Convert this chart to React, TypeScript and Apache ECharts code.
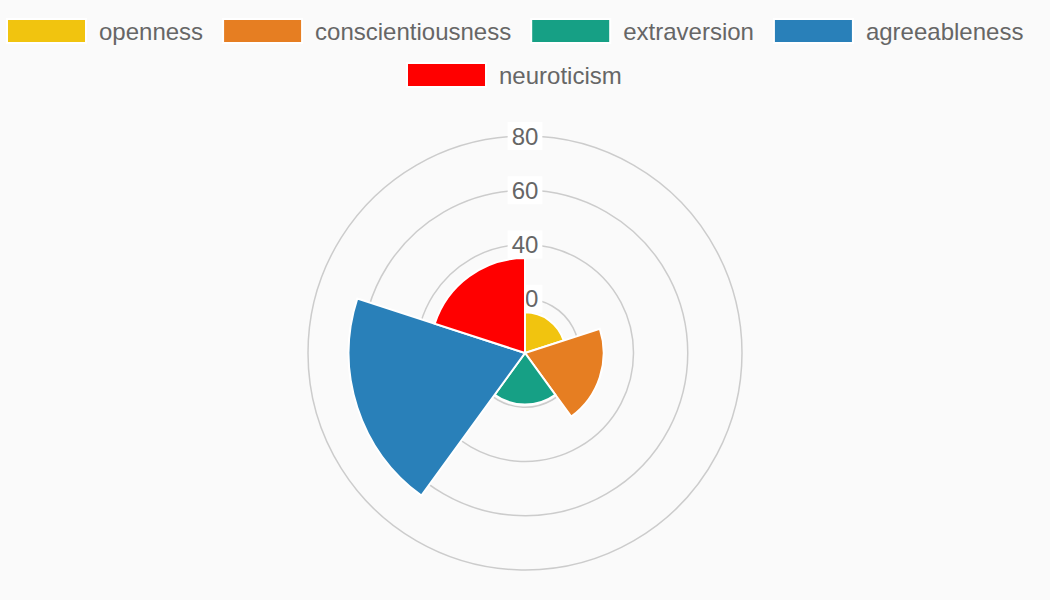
import React, { useEffect, useRef } from "react";
import * as echarts from "echarts";

const categories = ["openness", "conscientiousness", "extraversion", "agreeableness", "neuroticism"];
const values = [15, 29, 19, 65, 35];
const colors = ["#f1c40f", "#e67e22", "#16a085", "#2980b9", "#ff0000"];
const radiusTicks = [0, 20, 40, 60, 80];
const legendRow1 = categories.slice(0, 4);
const legendRow2 = categories.slice(4);

export default function App() {
  const ref = useRef<HTMLDivElement>(null);
  useEffect(() => {
    if (!ref.current) return;
    const chart = echarts.init(ref.current, undefined, { renderer: "svg" });
    const font = "'Liberation Sans', Arial, sans-serif";
    const legendBase = {
      icon: "rect",
      itemWidth: 79,
      itemHeight: 24,
      itemGap: 19,
      padding: 0,
      orient: "horizontal",
      textStyle: { fontSize: 24, color: "#666", fontFamily: font, padding: [0, 0, 0, 8] },
    };
    chart.setOption({
      animation: false,
      backgroundColor: "#fafafa",
      textStyle: { fontFamily: font },
      legend: [
        { ...legendBase, top: 18, left: 6, data: legendRow1 },
        { ...legendBase, top: 62, left: 406, data: legendRow2 },
      ],
      polar: { center: [525, 353], radius: 217 },
      angleAxis: {
        type: "category",
        data: categories,
        startAngle: 90,
        clockwise: true,
        axisLine: { show: false },
        axisTick: { show: false },
        axisLabel: { show: false },
        splitLine: { show: false },
      },
      radiusAxis: {
        type: "value",
        min: radiusTicks[0],
        max: radiusTicks[radiusTicks.length - 1],
        interval: radiusTicks[1] - radiusTicks[0],
        axisLine: { show: false },
        axisTick: { show: false },
        splitLine: { show: true, lineStyle: { color: "#cccccc", width: 1.5 } },
        axisLabel: {
          showMinLabel: false,
          margin: 0,
          align: "center",
          verticalAlign: "middle",
          fontSize: 24,
          color: "#666",
          fontFamily: font,
          backgroundColor: "#ffffff",
          padding: [2, 4],
        },
        z: 1,
      },
      series: categories.map((name, i) => ({
        name,
        type: "bar",
        coordinateSystem: "polar",
        stack: "total",
        barCategoryGap: "0%",
        data: values.map((v, j) => (j === i ? v : "-")),
        itemStyle: { color: colors[i], borderColor: "#ffffff", borderWidth: 2 },
        z: 3,
      })),
    });
    return () => chart.dispose();
  }, []);
  return (
    <div
      ref={ref}
      style={{ position: "fixed", left: 0, top: 0, width: 1050, height: 600 }}
    />
  );
}
